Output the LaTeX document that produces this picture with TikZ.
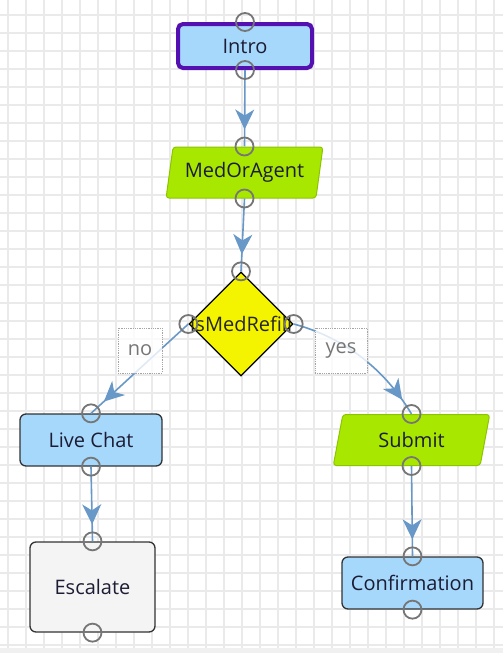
\documentclass[tikz,border=0pt]{standalone}
\usepackage{fontspec}
\setmainfont{Open Sans}
\usetikzlibrary{shapes.geometric,arrows.meta,decorations.markings}
\definecolor{gridgray}{RGB}{234,234,234}
\definecolor{introborder}{RGB}{84,16,176}
\definecolor{skyfill}{RGB}{166,216,252}
\definecolor{limefill}{RGB}{168,232,0}
\definecolor{limeborder}{RGB}{140,196,0}
\definecolor{lemonfill}{RGB}{244,244,0}
\definecolor{flowblue}{RGB}{104,152,200}
\definecolor{portgray}{RGB}{118,118,118}
\definecolor{inkdark}{RGB}{28,28,52}
\definecolor{labelgray}{RGB}{118,118,118}
\definecolor{escfill}{RGB}{244,244,244}

\tikzset{
    stepbox/.style={draw=black!80, line width=1.3pt, rounded corners=6pt, fill=skyfill,
        text=inkdark, inner sep=0pt},
    startbox/.style={stepbox, draw=introborder, line width=4pt, rounded corners=5pt,
        minimum width=134pt, minimum height=44pt},
    inputbox/.style={trapezium, trapezium left angle=77, trapezium right angle=103,
        trapezium stretches=true, draw=limeborder, line width=1pt, fill=limefill,
        rounded corners=3pt, text=inkdark, minimum width=157pt, minimum height=51pt},
    decision/.style={diamond, draw=black, line width=1.3pt, fill=lemonfill,
        minimum width=104pt, minimum height=104pt, inner sep=0pt},
    flow/.style={draw=flowblue, line width=1.6pt, postaction={decorate,
        decoration={markings, mark=at position -17pt with
        {\arrow{Stealth[length=20pt,width=19pt,inset=6pt]}}}}},
    edgetag/.style={draw=black!35, densely dotted, line width=0.8pt, fill=white,
        fill opacity=0.8, text opacity=1, text=labelgray, minimum height=45pt},
    port/.style={draw=portgray, line width=1.8pt},
    gridline/.style={draw=gridgray, line width=1.5pt}
}

\begin{document}
\begin{tikzpicture}[x=1pt, y=-1pt, font=\fontsize{20}{23}\selectfont]
    \useasboundingbox (0,0) rectangle (503,653);
    \fill[white] (0,0) rectangle (503,653);

    % Background grid
    \foreach \gx in {8,26,...,503} {
        \draw[gridline] (\gx,0) -- (\gx,648);
    }
    \foreach \gy in {15,33,...,648} {
        \draw[gridline] (0,\gy) -- (503,\gy);
    }
    \fill[black!6] (0,648) rectangle (503,653);

    % Steps
    \node[startbox] (intro) at (245,46) {Intro};
    \node[inputbox] (medagent) at (244.5,172.5) {MedOrAgent};
    \node[decision, label={[text=black!85]center:IsMedRefill}] (refill) at (241,324) {};
    \node[stepbox, minimum width=142pt, minimum height=52pt] (livechat) at (91,440) {Live Chat};
    \node[stepbox, fill=escfill, minimum width=125pt, minimum height=90pt] (escalate) at (92.5,587) {Escalate};
    \node[inputbox] (submit) at (411.5,440) {Submit};
    \node[stepbox, minimum width=141pt, minimum height=52pt] (confirm) at (412.5,583) {Confirmation};

    % Connectors
    \draw[flow] (intro.south) -- (medagent.north);
    \draw[flow] (medagent.south) -- (refill.north);
    \draw[flow] (refill.west) -- (livechat.north);
    \draw[flow] (refill.east) .. controls +(45,12) and +(-30,-50) .. (submit.north);
    \draw[flow] (livechat.south) -- (escalate.north);
    \draw[flow] (submit.south) -- (confirm.north);

    % Branch labels
    \node[edgetag, minimum width=44pt] (notag) at (140,350.5) {no};
    \node[edgetag, minimum width=52pt] (yestag) at (341,350.5) {yes};

    % Connection ports
    \foreach \p in {intro.north, intro.south, medagent.north, medagent.south,
        refill.north, refill.west, refill.east, livechat.north, livechat.south,
        escalate.north, escalate.south, submit.north, submit.south,
        confirm.north, confirm.south} {
        \draw[port] (\p) circle[radius=9pt];
    }
\end{tikzpicture}
\end{document}
